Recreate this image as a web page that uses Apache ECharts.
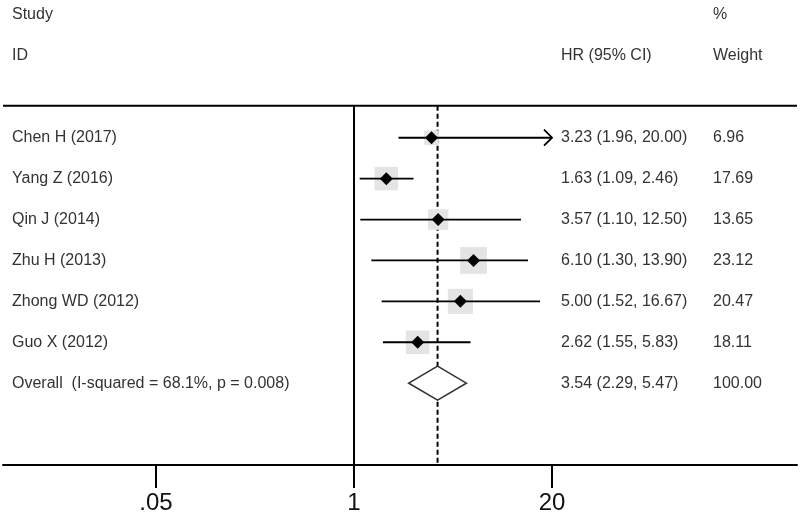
<!DOCTYPE html>
<html>
<head>
<meta charset="utf-8">
<script src="https://cdn.jsdelivr.net/npm/echarts@6/dist/echarts.min.js"></script>
<style>
html, body { margin: 0; padding: 0; background: #fff; }
#main { width: 800px; height: 515px; }
</style>
</head>
<body>
<div id="main"></div>
<script>
// study rows
var studies = ['Chen H (2017)', 'Yang Z (2016)', 'Qin J (2014)', 'Zhu H (2013)', 'Zhong WD (2012)', 'Guo X (2012)'];
var hr = [3.23, 1.63, 3.57, 6.10, 5.00, 2.62];
var lower = [1.96, 1.09, 1.10, 1.30, 1.52, 1.55];
var upper = [20.00, 2.46, 12.50, 13.90, 16.67, 5.83];
var weights = [6.96, 17.69, 13.65, 23.12, 20.47, 18.11];

// pooled estimate
var overallLabel = 'Overall  (I-squared = 68.1%, p = 0.008)';
var overallHR = [3.54, 2.29, 5.47]; // est, lo, hi
var overallWeight = 100.00;

// header texts
var headLeft = ['Study', 'ID'];
var headHR = ['', 'HR (95% CI)'];
var headWeight = ['%', 'Weight'];

// x axis ticks
var tickValues = [0.05, 1, 20];
var tickLabels = ['.05', '1', '20'];

var clipMax = 20;
var topRow = -0.78;
var boxScale = 5.55;
var FONT = '"Liberation Sans", Arial, sans-serif';
var TXT = '#333';

function fmt(v) { return v.toFixed(2); }

var chart = echarts.init(document.getElementById('main'), null, { renderer: 'canvas' });

// row data: [hr, row, lo, hi, weight]
var studyData = studies.map(function (s, i) {
    return [hr[i], i, lower[i], upper[i], weights[i]];
});
var overallRow = studies.length;

var textData = [];
headLeft.forEach(function (t, i) { textData.push([1, i - 3, t, headHR[i], headWeight[i]]); });
studies.forEach(function (s, i) {
    textData.push([1, i, s, fmt(hr[i]) + ' (' + fmt(lower[i]) + ', ' + fmt(upper[i]) + ')', fmt(weights[i])]);
});
textData.push([1, overallRow, overallLabel,
    fmt(overallHR[0]) + ' (' + fmt(overallHR[1]) + ', ' + fmt(overallHR[2]) + ')', fmt(overallWeight)]);

function renderStudy(params, api) {
    var row = api.value(1);
    var c = api.coord([api.value(0), row]);
    var hi = api.value(3);
    var a = api.coord([api.value(2), row]);
    var b = api.coord([Math.min(hi, clipMax), row]);
    var side = boxScale * Math.sqrt(api.value(4));
    var d = 6.5;
    var kids = [
        { type: 'rect', shape: { x: c[0] - side / 2, y: c[1] - side / 2, width: side, height: side },
          style: { fill: '#e4e4e4' } },
        { type: 'line', shape: { x1: a[0], y1: a[1], x2: b[0], y2: b[1] },
          style: { stroke: '#000', lineWidth: 1.8 } },
        { type: 'polygon', shape: { points: [[c[0] - d, c[1]], [c[0], c[1] - d], [c[0] + d, c[1]], [c[0], c[1] + d]] },
          style: { fill: '#000' } }
    ];
    if (hi >= clipMax) {
        kids.push({ type: 'polyline',
            shape: { points: [[b[0] - 8, b[1] - 8], [b[0], b[1]], [b[0] - 8, b[1] + 8]] },
            style: { stroke: '#000', lineWidth: 1.8, fill: null } });
    }
    return { type: 'group', children: kids };
}

function renderOverall(params, api) {
    var row = api.value(1);
    var c = api.coord([api.value(0), row]);
    var a = api.coord([api.value(2), row]);
    var b = api.coord([api.value(3), row]);
    var h = 17;
    return {
        type: 'polygon',
        shape: { points: [[a[0], c[1]], [c[0], c[1] - h], [b[0], c[1]], [c[0], c[1] + h]] },
        style: { fill: '#fff', stroke: '#333', lineWidth: 1.6 }
    };
}

function renderText(params, api) {
    var y = api.coord([1, api.value(1)])[1];
    var cols = [[12, api.value(2)], [561, api.value(3)], [713, api.value(4)]];
    return {
        type: 'group',
        children: cols.map(function (col) {
            return { type: 'text', x: col[0], y: y,
                style: { text: col[1], fontSize: 16, fontFamily: FONT, fill: TXT, align: 'left', verticalAlign: 'middle' } };
        })
    };
}

function renderFrame(params, api) {
    var nTop = api.coord([1, topRow]);
    var nBot = api.coord([1, overallRow + 2]);
    var oTop = api.coord([overallHR[0], topRow]);
    var oBot = api.coord([overallHR[0], overallRow + 2]);
    return {
        type: 'group',
        children: [
            { type: 'line', shape: { x1: 3, y1: nTop[1], x2: 797, y2: nTop[1] },
              style: { stroke: '#000', lineWidth: 2 } },
            { type: 'line', shape: { x1: nTop[0], y1: nTop[1], x2: nBot[0], y2: nBot[1] },
              style: { stroke: '#000', lineWidth: 2 } },
            { type: 'line', shape: { x1: oTop[0], y1: oTop[1], x2: oBot[0], y2: oBot[1] },
              style: { stroke: '#000', lineWidth: 2, lineDash: [5, 3] } }
        ]
    };
}

var option = {
    backgroundColor: '#fff',
    animation: false,
    grid: { left: 3, right: 3, top: 15, bottom: 50, containLabel: false, outerBoundsMode: 'none' },
    xAxis: {
        type: 'log',
        logBase: 10,
        min: 0.00494,
        max: 814,
        splitLine: { show: false },
        minorTick: { show: false },
        axisLine: { show: true, onZero: false, lineStyle: { color: '#000', width: 2 } },
        axisTick: { show: true, customValues: tickValues, length: 23, lineStyle: { color: '#000', width: 2 } },
        axisLabel: {
            customValues: tickValues,
            margin: 26,
            fontSize: 24,
            fontFamily: FONT,
            color: '#111',
            formatter: function (v) {
                var k = tickValues.indexOf(v);
                return k >= 0 ? tickLabels[k] : '';
            }
        }
    },
    yAxis: { type: 'value', min: -3, max: 8, inverse: true, show: false },
    series: [
        { type: 'custom', name: 'frame', data: [[1, 0]], renderItem: renderFrame, encode: { x: 0, y: 1 }, silent: true, z: 1 },
        { type: 'custom', name: 'studies', data: studyData, renderItem: renderStudy, encode: { x: 0, y: 1 }, z: 3 },
        { type: 'custom', name: 'overall', data: [[overallHR[0], overallRow, overallHR[1], overallHR[2]]],
          renderItem: renderOverall, encode: { x: 0, y: 1 }, z: 3 },
        { type: 'custom', name: 'text', data: textData, renderItem: renderText, encode: { x: 0, y: 1 }, silent: true, z: 4 }
    ]
};

chart.setOption(option);
</script>
</body>
</html>
